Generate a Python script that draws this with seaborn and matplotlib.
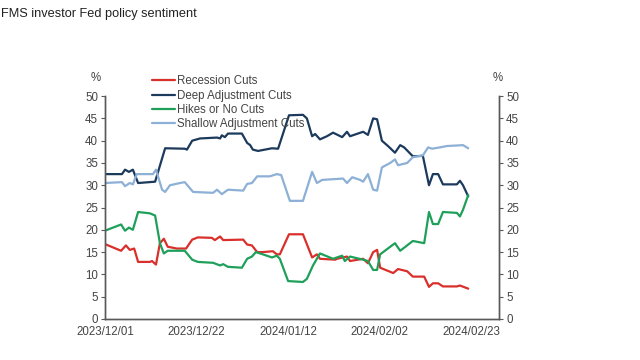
import pandas as pd
import matplotlib
matplotlib.use("Agg")
import matplotlib.pyplot as plt
import matplotlib.dates as mdates
import seaborn as sns

# ---- data (day offset from 2023-12-01, value in %) ----
start = pd.Timestamp("2023-12-01")

deep_days = [0, 3.9, 4.6, 5.5, 6.4, 7.6, 11.5, 13.8, 18.3, 18.8, 20, 21.8, 25.7, 26.4, 26.8,
             27.5, 28.2, 31.4, 32.6, 33.3, 33.9, 35.1, 38.3, 39.7, 42.2, 45.4, 46.3, 47.5,
             48.2, 49.3, 50.9, 52.3, 54.4, 55.5, 56.2, 59.2, 60.3, 61.5, 62.4, 63.5, 64.9,
             66.5, 67.7, 68.6, 70.6, 72.9, 74.3, 75.2, 76.4, 77.5, 80.7, 81.4, 82.1, 83.3]
deep_vals = [32.5, 32.5, 33.5, 33, 33.5, 30.5, 30.8, 38.3, 38.2, 38, 40, 40.5, 40.7, 40.5, 41.2,
             40.8, 41.6, 41.6, 39.5, 39, 38, 37.7, 38.3, 38.2, 45.7, 45.8, 45, 41, 41.5, 40.3,
             41, 41.8, 40.8, 42, 41, 42, 41.3, 45, 44.8, 40, 38.8, 37.3, 39, 38.5, 36.5, 36.6,
             30, 32.5, 32.5, 30.2, 30.2, 31, 30, 27.5]

shallow_days = [0, 3.9, 4.6, 5.7, 6.4, 7.3, 11, 11.7, 13.1, 13.8, 14.9, 17.2, 18.3, 20.2, 24.8,
                25.7, 26.8, 28.2, 31.7, 32.6, 33.7, 34.9, 37.8, 39.4, 40.4, 42.4, 45.4, 47.5,
                48.6, 49.8, 54.6, 55.5, 56.7, 58.5, 59.2, 60.3, 61.5, 62.4, 63.5, 65.4, 66.5,
                67.2, 69.3, 70.6, 72.9, 74.1, 75, 76.8, 78.4, 82.1, 83.3]
shallow_vals = [30.5, 30.7, 29.8, 30.5, 30.2, 32.5, 32.5, 33.5, 29, 28.5, 30, 30.5, 30.7, 28.5,
                28.3, 29, 28, 29, 28.8, 30.3, 30.5, 32, 32, 32.5, 32.3, 26.5, 26.5, 33, 30.5,
                31.2, 31.5, 30.5, 31.8, 31.2, 30.8, 32.5, 29, 28.8, 34, 35, 35.8, 34.5, 35,
                36.3, 36.7, 38.5, 38.2, 38.5, 38.8, 39, 38.3]

recession_days = [0, 3.7, 4.8, 5.7, 6.7, 7.6, 10.3, 10.8, 11.7, 12.6, 13.5, 14.4, 16.5, 18.6,
                  20, 21.3, 24.5, 25.2, 26.4, 27.1, 31.7, 32.6, 33.7, 34.9, 36.2, 38.5, 39.4,
                  40.1, 42.2, 45.4, 47.5, 48.6, 49.3, 52.8, 53.2, 55.5, 56.2, 59.2, 60.3, 61.5,
                  62.4, 63.1, 66.1, 67.2, 69.3, 70.6, 73.2, 74.3, 75.2, 76.4, 77.5, 80.7, 81.4,
                  83.3]
recession_vals = [16.8, 15.3, 16.5, 15.5, 15.8, 12.8, 12.8, 13, 12.2, 17, 18, 16.2, 15.8, 15.8,
                  17.8, 18.3, 18.2, 17.7, 18.5, 17.7, 17.8, 16.7, 16.5, 15, 15, 15.2, 14.5,
                  14.5, 19, 19, 13.8, 14.5, 13.5, 13.3, 13.5, 14, 13, 13.5, 12.5, 15, 15.5,
                  11.5, 10.3, 11.2, 10.7, 9.5, 9.5, 7.2, 8, 8, 7.3, 7.3, 7.5, 6.8]

hikes_days = [0, 3.7, 4.6, 5.5, 6.4, 7.6, 10.3, 11.5, 12.6, 13.5, 14.4, 18.3, 20, 21.3, 24.8,
              26.4, 27.1, 28.2, 31.4, 32.6, 33.7, 34.6, 36.2, 38.3, 39.4, 40.1, 42, 45.4, 46.3,
              47.7, 49.3, 52.3, 54.4, 55, 56.2, 59.2, 60.3, 61.5, 62.4, 63.1, 66.5, 67.7, 70.6,
              73.2, 74.3, 75.2, 76.4, 77.5, 80.7, 81.4, 82.1, 83.3]
hikes_vals = [19.8, 21.2, 19.8, 20.5, 20, 24, 23.7, 23.2, 17, 14.7, 15.3, 15.3, 13.3, 12.8,
              12.6, 12, 12.3, 11.7, 11.5, 13.5, 14, 15, 14.5, 13.8, 14.2, 13.5, 8.5, 8.3, 9, 12,
              14.7, 13.5, 14.2, 13, 14, 13.3, 13, 11, 11, 14.5, 17, 15.3, 17.5, 17, 24, 21.3,
              21.3, 24, 23.8, 23, 24.5, 27.8]

series_names = ["Recession Cuts", "Deep Adjustment Cuts", "Hikes or No Cuts",
                "Shallow Adjustment Cuts"]
series_colors = ["#d9302b", "#1c3a5c", "#1fa05a", "#8db0d6"]
tick_dates = ["2023-12-01", "2023-12-22", "2024-01-12", "2024-02-02", "2024-02-23"]

frames = []
for name, days, vals in [("Recession Cuts", recession_days, recession_vals),
                         ("Deep Adjustment Cuts", deep_days, deep_vals),
                         ("Hikes or No Cuts", hikes_days, hikes_vals),
                         ("Shallow Adjustment Cuts", shallow_days, shallow_vals)]:
    frames.append(pd.DataFrame({"date": start + pd.to_timedelta(days, unit="D"),
                                "value": vals, "series": name}))
df = pd.concat(frames, ignore_index=True)

# ---- plot ----
sns.set_style("white")
plt.rcParams["font.family"] = ["Liberation Sans", "DejaVu Sans"]
grey = "#595959"

fig = plt.figure(figsize=(6.4, 3.6), dpi=100)
ax = fig.add_axes([0.164, 0.114, 0.616, 0.619])

sns.lineplot(data=df, x="date", y="value", hue="series", hue_order=series_names,
             palette=series_colors, linewidth=1.6, sort=False, estimator=None, ax=ax)

ax.set_xlim(start, start + pd.Timedelta(days=90.4))
ax.set_ylim(0, 50)
ax.set_yticks(range(0, 51, 5))
ax.set_xticks(pd.to_datetime(tick_dates))
ax.xaxis.set_major_formatter(mdates.DateFormatter("%Y/%m/%d"))
ax.set_xlabel("")
ax.set_ylabel("")

ax2 = ax.twinx()
ax2.set_ylim(0, 50)
ax2.set_yticks(range(0, 51, 5))

for a in (ax, ax2):
    a.spines["top"].set_visible(False)
    for s in ("left", "right", "bottom"):
        a.spines[s].set_color(grey)
        a.spines[s].set_linewidth(1.0)
    a.tick_params(axis="both", colors=grey, labelsize=8.3, length=3, width=0.8,
                  direction="out", pad=2)
    for lbl in a.get_xticklabels() + a.get_yticklabels():
        lbl.set_color("#444444")

fig.text(0.150, 0.783, "%", fontsize=8.3, color="#444444", ha="center", va="center")
fig.text(0.777, 0.783, "%", fontsize=8.3, color="#444444", ha="center", va="center")

handles, labels = ax.get_legend_handles_labels()
ax.legend(handles, labels, loc="upper left", bbox_to_anchor=(0.228, 0.807),
          bbox_transform=fig.transFigure, frameon=False, fontsize=8.3,
          handlelength=2.0, handletextpad=0.2, labelspacing=0.2, borderpad=0,
          labelcolor="#444444")

fig.text(0.002, 0.96, "FMS investor Fed policy sentiment", fontsize=9.2,
         color="#222222", ha="left", va="center")

fig.savefig("out.png", dpi=100, facecolor="white")
